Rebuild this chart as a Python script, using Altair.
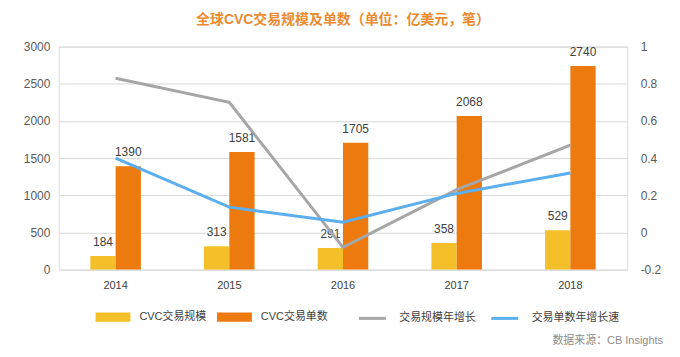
import altair as alt
import pandas as pd

years = ["2014", "2015", "2016", "2017", "2018"]
deal_size = [184, 313, 291, 358, 529]
deal_count = [1390, 1581, 1705, 2068, 2740]
size_growth = [0.83, 0.70, -0.08, 0.23, 0.47]
count_growth = [0.40, 0.136, 0.055, 0.21, 0.32]
bar_series = ["CVC交易规模", "CVC交易单数"]
line_series = ["交易规模年增长", "交易单数年增长速"]
left_ticks = [0, 500, 1000, 1500, 2000, 2500, 3000]
right_ticks = [-0.2, 0, 0.2, 0.4, 0.6, 0.8, 1]
title_text = "全球CVC交易规模及单数（单位：亿美元，笔）"
source_text = ["数据来源：CB Insights"]

FONT = "Liberation Sans, Noto Sans CJK SC"
YELLOW = "#F3C02A"
ORANGE = "#EC7A0E"
GRAY = "#A6A6A6"
BLUE = "#5BAFEF"

bars_df = pd.DataFrame({
    "year": years * 2,
    "series": [bar_series[0]] * len(years) + [bar_series[1]] * len(years),
    "value": deal_size + deal_count,
})
lines_df = pd.DataFrame({
    "year": years * 2,
    "series": [line_series[0]] * len(years) + [line_series[1]] * len(years),
    "growth": size_growth + count_growth,
})
src_df = pd.DataFrame({"t": source_text})

x_enc = alt.X(
    "year:N", sort=years,
    scale=alt.Scale(paddingInner=0.555, paddingOuter=0.2775),
    axis=alt.Axis(title=None, labelAngle=0, ticks=False, domain=False, grid=False,
                  labelPadding=10, labelFontSize=11, labelColor="#404040"),
)
x_off = alt.XOffset("series:N", sort=bar_series, scale=alt.Scale(paddingInner=0, paddingOuter=0))
y_left = alt.Y(
    "value:Q",
    scale=alt.Scale(domain=[0, 3000], nice=False, zero=True),
    axis=alt.Axis(title=None, values=left_ticks, format="d", ticks=False, domain=False, grid=True,
                  gridColor="#D9D9D9", gridWidth=1, labelPadding=9, labelFontSize=12,
                  labelColor="#595959"),
)

bars = alt.Chart(bars_df).mark_bar().encode(
    x=x_enc, xOffset=x_off, y=y_left,
    fill=alt.Fill(
        "series:N", sort=bar_series,
        scale=alt.Scale(domain=bar_series, range=[YELLOW, ORANGE]),
        legend=alt.Legend(
            title=None, orient="none", legendX=37, legendY=254, direction="horizontal",
            symbolType="M-1,-0.26H1V0.26H-1Z", symbolSize=1225, symbolStrokeWidth=0,
            labelOffset=9, columnPadding=10, labelFontSize=11, labelColor="#404040",
        ),
    ),
)
labels = alt.Chart(bars_df).mark_text(baseline="alphabetic", dy=-10, fontSize=12, color="#404040").encode(
    x=x_enc, xOffset=x_off, y=y_left, text="value:Q",
)
source = alt.Chart(src_df).mark_text(align="right", baseline="middle", fontSize=11, color="#8C8C8C").encode(
    x=alt.value(607), y=alt.value(296), text="t:N",
)

lines = alt.Chart(lines_df).mark_line(strokeWidth=3).encode(
    x=x_enc,
    y=alt.Y(
        "growth:Q",
        scale=alt.Scale(domain=[-0.2, 1], nice=False, zero=False),
        axis=alt.Axis(orient="right", title=None, values=right_ticks, ticks=False, domain=False,
                      grid=False, labelPadding=13, labelFontSize=12, labelColor="#595959",
                      labelExpr="'' + datum.value"),
    ),
    stroke=alt.Stroke(
        "series:N", sort=line_series,
        scale=alt.Scale(domain=line_series, range=[GRAY, BLUE]),
        legend=alt.Legend(
            title=None, orient="none", legendX=300, legendY=258, direction="horizontal",
            symbolType="stroke", symbolSize=729, symbolStrokeWidth=3,
            labelOffset=12, columnPadding=9, labelFontSize=11, labelColor="#404040",
        ),
    ),
)

chart = alt.layer(
    alt.layer(bars, labels, source), lines
).resolve_scale(y="independent").properties(
    width=571, height=224,
    padding={"left": 51, "top": 38, "right": 45, "bottom": 85},
    autosize="none",
    title=alt.Title(title_text, fontSize=14, fontWeight="bold", color="#EC8A2E",
                    anchor="middle", offset=14),
).configure_view(stroke=None).configure(font=FONT)

chart.save("out.html", embed_options={"renderer": "svg", "actions": False})
